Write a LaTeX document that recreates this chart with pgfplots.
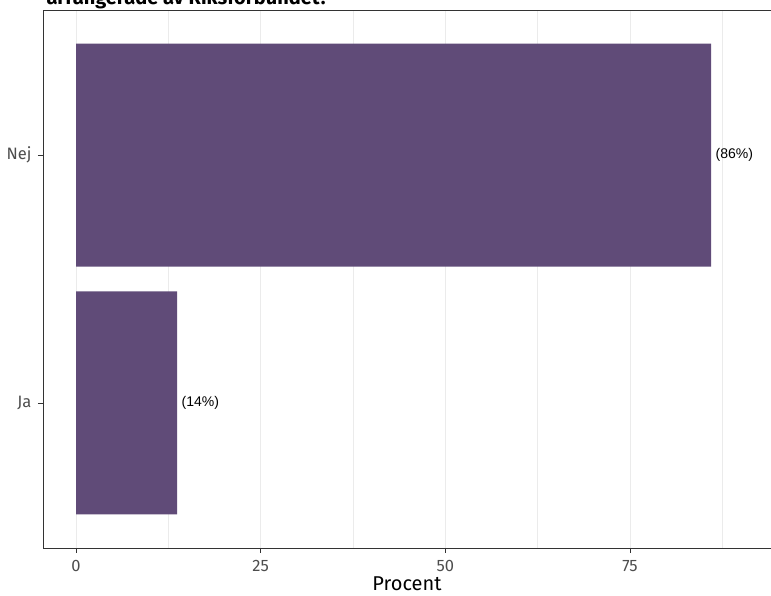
\documentclass[border=0pt]{standalone}
\usepackage{pgfplots}
\pgfplotsset{compat=1.18}
\usetikzlibrary{calc}
\usepackage{fontspec}
\setmainfont{Fira Sans}
\newfontfamily\arialfont{Liberation Sans}
\definecolor{barcol}{RGB}{96,75,120}
\definecolor{gridcol}{RGB}{235,235,235}
\definecolor{axcol}{RGB}{51,51,51}
\definecolor{tickcol}{RGB}{77,77,77}
\begin{document}
\begin{tikzpicture}
\begin{axis}[
  name=ax,
  scale only axis, width=728pt, height=538pt,
  xbar, bar width=223pt,
  xmin=-4.47, xmax=94.1,
  ymin=0.415, ymax=2.585,
  ytick={1,2}, yticklabels={Ja,Nej},
  xtick={0,25,50,75},
  minor xtick={12.5,37.5,62.5,87.5},
  xmajorgrids, xminorgrids,
  major grid style={gridcol, line width=0.8pt},
  minor grid style={gridcol, line width=0.6pt},
  axis line style={axcol, line width=0.8pt},
  tick style={axcol, line width=0.8pt},
  major tick length=5pt, minor tick length=0pt,
  tick align=outside,
  xtick pos=bottom, ytick pos=left,
  tick label style={font=\fontsize{16.5}{18}\selectfont, text=tickcol},
  xticklabel style={yshift=-4pt},
  yticklabel style={xshift=-3pt},
  /pgf/number format/assume math mode=true,
  xlabel={Procent},
  xlabel style={font=\fontsize{20}{24}\selectfont, text=black, inner sep=0pt, yshift=-1.5pt},
  point meta=explicit symbolic,
  nodes near coords={(\pgfplotspointmeta\%)},
  nodes near coords style={font=\arialfont\fontsize{14}{16}\selectfont, text=black, anchor=west, xshift=1pt},
]
\addplot[fill=barcol, draw=none] coordinates {(13.7,1) [14] (86,2) [86]};
\end{axis}
\node[anchor=base west, font=\bfseries\fontsize{20}{24}\selectfont] at ($(ax.south west)+(0pt,543pt)$) {arrangerade av Riksförbundet?};
\pgfresetboundingbox
\path[use as bounding box] ($(ax.south west)+(-43pt,-48pt)$) rectangle ($(ax.south west)+(728pt,548pt)$);
\end{tikzpicture}
\end{document}
